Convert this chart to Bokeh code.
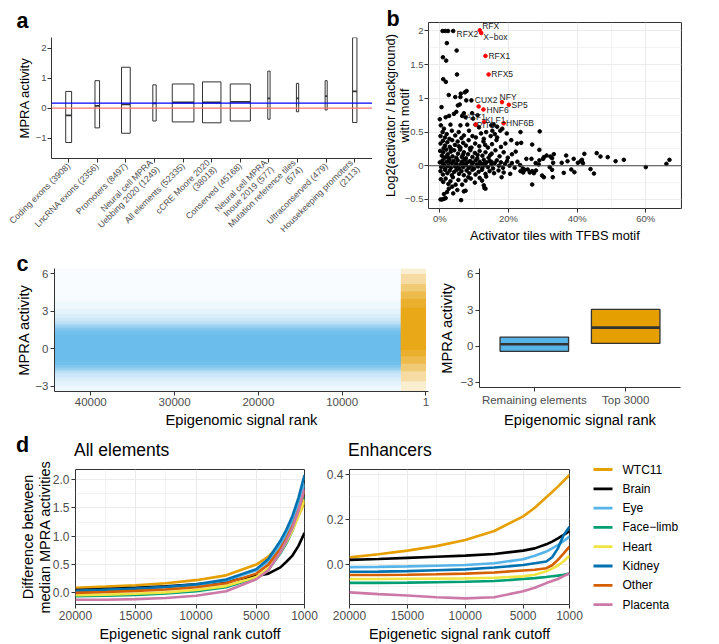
import math
from bokeh.plotting import figure
from bokeh.layouts import row, column
from bokeh.models import Range1d, FixedTicker, Span, Title, Div
from bokeh.core.properties import value
from bokeh.embed import file_html
from bokeh.resources import INLINE

FONT = "Liberation Sans"
TICK_COL = "#4D4D4D"
DARK = "#333333"
GRID = "#EBEBEB"

# ---------------- panel a data ----------------
a_labels = ["Coding exons (3908)", "LncRNA exons (2356)", "Promoters (8497)",
            "Neural cell MPRA\nUebbing 2020 (1249)", "All elements (52335)",
            "cCRE Moore 2020\n(38018)", "Conserved (45168)",
            "Neural cell MPRA\nInoue 2019 (577)", "Mutation reference tiles\n(574)",
            "Ultraconserved (479)", "Housekeeping promoters\n(2113)"]
a_counts = [3908, 2356, 8497, 1249, 52335, 38018, 45168, 577, 574, 479, 2113]
a_q1 = [-1.15, -0.66, -0.84, -0.43, -0.46, -0.49, -0.43, -0.37, -0.12, -0.06, -0.48]
a_med = [-0.24, 0.08, 0.13, 0.16, 0.19, 0.19, 0.21, 0.33, 0.33, 0.40, 0.56]
a_q3 = [0.56, 0.92, 1.37, 0.78, 0.81, 0.88, 0.81, 1.24, 0.83, 0.92, 2.36]
a_blue_ref = 0.17
a_red_ref = 0.0
a_yticks = [-1, 0, 1, 2]
a_ytick_labels = ["\u22121", "0", "1", "2"]

# ---------------- panel b data ----------------
bx = [0.8, 1.6, 2.4, 3.9, 2.05, 4.9, 0.9, 1.85, 5.0, 1.0, 1.75,
      2.6, 4.5, 6.1, 7.3, 7.8, 6.0, 7.7, 9.2, 5.25, 5.8, 0.5,
      2.7, 6.5, 1.7, 4.1, 7.0, 7.5, 9.4, 9.7, 0.0, 4.8, 11.0, 10.4, 11.4, 15.0,
      0.3, 1.2, 3.1, 6.0, 8.0, 15.7, 16.7, 18.2, 0.8, 2.0, 3.5, 4.5, 5.5, 7.0, 8.5, 9.5,
      12.0, 13.5, 14.8, 16.0, 17.6, 19.5, 1.5, 2.8, 0.2, 6.3, 10.5, 12.8, 15.3, 16.7, 23.5, 29.1,
      0.2, 0.9, 1.5, 2.2, 2.9, 3.6, 4.4, 5.2, 6.0, 6.8, 7.6, 8.4, 9.2, 10.3, 11.5, 12.7, 14.0,
      15.2, 16.5, 17.8, 19.1, 20.8, 22.5, 23.7, 26.9, 1.1, 3.3, 5.5, 8.8, 13.2,
      0.1, 0.6, 1.0, 1.4, 1.9, 2.3, 2.7, 3.2, 3.7, 4.2, 4.8, 5.3, 5.9, 6.4, 7.0, 7.6, 8.2, 8.9,
      9.5, 10.2, 10.9, 11.6, 12.4, 13.3, 14.2, 15.1, 16.2, 17.4, 18.6, 19.8, 21.0, 22.1, 29.0,
      25.2, 26.7, 30.1, 30.3, 31.1, 32.2, 32.7, 33.2, 36.8, 39.0, 41.4, 42.1, 45.7, 46.8, 48.9,
      53.6, 66.9, 2.0, 6.7, 11.0, 14.7,
      0.0, 0.4, 0.8, 1.2, 1.6, 2.0, 2.4, 2.8, 3.2, 3.6, 4.0, 4.4, 4.8, 5.2, 5.6, 6.0, 6.4, 6.8,
      7.2, 7.6, 8.0, 8.4, 8.8, 9.2, 9.6, 10.0, 10.4, 10.8, 11.2, 11.6, 12.0, 12.4, 12.8, 13.2,
      13.6, 14.0, 14.5, 15.0, 15.5, 16.0, 16.6, 17.2, 17.8, 18.4, 19.0, 19.6, 20.3, 21.0, 21.8,
      22.6, 23.4, 24.2, 27.9, 29.0, 28.8, 33.0, 35.5, 37.2, 40.2, 41.0, 41.7, 51.2, 66.0, 60.0,
      1.0, 3.0, 5.0, 7.0, 9.0, 11.0, 13.0, 15.0,
      0.2, 0.9, 1.5, 2.2, 2.9, 3.5, 4.2, 4.9, 5.6, 6.3, 7.0, 7.8, 8.6, 9.5, 10.4, 11.3, 12.3,
      13.3, 14.5, 15.8, 17.1, 18.6, 20.5, 23.5, 24.3, 24.7, 25.6, 26.2, 26.9, 27.4, 28.0, 32.0,
      32.7, 38.3, 43.9, 36.1, 39.2, 44.9,
      0.3, 1.0, 1.7, 2.5, 3.1, 3.8, 4.6, 5.4, 6.5, 7.5, 8.3, 9.0, 10.2, 11.6, 12.3, 13.5, 12.8,
      29.8, 30.3, 32.9, 26.9, 18.0,
      0.2, 0.7, 1.2, 1.7, 1.2, 2.1, 2.6, 3.6, 3.9, 5.1, 6.2, 7.0, 13.3, 13.0, 7.5]
by = [2.0, 2.0, 2.0, 2.0, 1.82, 1.71, 1.61, 1.56, 1.355, 1.285, 1.245,
      1.05, 1.02, 1.07, 1.09, 1.11, 1.02, 0.97, 0.97, 0.895, 0.91, 0.87,
      0.74, 0.74, 0.72, 0.77, 0.78, 0.72, 0.78, 0.70, 0.69, 0.80, 0.75, 0.61, 0.57, 0.60,
      0.60, 0.55, 0.61, 0.60, 0.61, 0.61, 0.58, 0.55, 0.50, 0.47, 0.52, 0.45, 0.50, 0.45, 0.52, 0.44,
      0.48, 0.50, 0.44, 0.47, 0.52, 0.48, 0.42, 0.40, 0.44, 0.41, 0.42, 0.40, 0.52, 0.42, 0.50, 0.51,
      0.33, 0.37, 0.30, 0.35, 0.28, 0.38, 0.31, 0.36, 0.27, 0.34, 0.30, 0.38, 0.27, 0.33, 0.29, 0.36, 0.27,
      0.32, 0.38, 0.28, 0.33, 0.38, 0.33, 0.34, 0.315, 0.26, 0.25, 0.29, 0.26, 0.31,
      0.22, 0.15, 0.20, 0.12, 0.24, 0.17, 0.11, 0.21, 0.14, 0.23, 0.12, 0.18, 0.24, 0.13, 0.20, 0.11, 0.17, 0.23,
      0.13, 0.19, 0.11, 0.22, 0.15, 0.20, 0.12, 0.18, 0.23, 0.14, 0.20, 0.12, 0.17, 0.21, 0.236,
      0.103, 0.103, 0.103, 0.128, 0.152, 0.137, 0.113, 0.172, 0.152, 0.103, 0.088, 0.177, 0.187, 0.137, 0.128,
      0.088, 0.088, 0.14, 0.16, 0.16, 0.16,
      0.05, -0.02, 0.08, 0.01, -0.04, 0.06, 0.0, 0.09, -0.03, 0.04, 0.07, -0.01, 0.03, 0.08, -0.04, 0.02, 0.06, -0.02,
      0.09, 0.01, 0.05, -0.03, 0.07, 0.0, 0.04, -0.04, 0.08, 0.02, -0.01, 0.06, 0.03, -0.03, 0.09, 0.01,
      0.05, -0.02, 0.07, 0.02, -0.04, 0.04, 0.08, 0.0, 0.05, -0.03, 0.03, 0.07, 0.0, 0.04, -0.03,
      0.06, 0.01, -0.04, 0.04, 0.08, 0.02, 0.044, 0.044, 0.068, 0.044, 0.068, 0.039, 0.068, 0.029, -0.02,
      0.03, 0.05, -0.01, 0.03, 0.06, 0.0, 0.04, 0.06,
      -0.08, -0.13, -0.06, -0.11, -0.07, -0.14, -0.09, -0.06, -0.12, -0.08, -0.14, -0.07, -0.11, -0.06, -0.13, -0.09, -0.06,
      -0.12, -0.08, -0.11, -0.07, -0.10, -0.12, -0.08, -0.10, -0.06, -0.055, -0.10, -0.08, -0.11, -0.07, -0.02,
      -0.06, -0.055, -0.05, -0.105, -0.095, -0.115,
      -0.20, -0.24, -0.19, -0.27, -0.23, -0.17, -0.28, -0.21, -0.28, -0.22, -0.17, -0.19, -0.25, -0.18, -0.22, -0.16, -0.29,
      -0.145, -0.17, -0.17, -0.278, -0.17,
      -0.50, -0.50, -0.49, -0.48, -0.42, -0.39, -0.34, -0.31, -0.41, -0.36, -0.51, -0.38, -0.34, -0.33, -0.37]
b_red_x = [11.65, 12.06, 13.3, 14.2, 11.3, 12.7, 18.1, 20.1, 12.9, 10.5, 18.6]
b_red_y = [2.01, 1.97, 1.63, 1.355, 0.88, 0.835, 0.945, 0.905, 0.65, 0.61, 0.63]
b_lab_text = ["RFX", "RFX2", "X\u2212box", "RFX1", "RFX5", "CUX2", "NFY", "SP5", "HNF6",
              "ATF1", "KLF1", "HNF6B", "PIT1"]
b_lab_x = [12.35, 4.86, 12.64, 14.15, 15.0, 10.2, 17.4, 20.9, 13.6, 7.54, 13.2, 19.3, 10.75]
b_lab_y = [2.07, 1.95, 1.91, 1.63, 1.355, 0.98, 1.02, 0.905, 0.835, 0.72, 0.68, 0.63, 0.60]
b_xticks = [0, 20, 40, 60]
b_xtick_labels = ["0%", "20%", "40%", "60%"]
b_xminor = [10, 30, 50, 70]
b_yticks = [-0.5, 0.0, 0.5, 1.0, 1.5, 2.0]
b_ytick_labels = ["\u22120.5", "0", "0.5", "1", "1.5", "2"]
b_yminor = [-0.25, 0.25, 0.75, 1.25, 1.75]

# ---------------- panel c data ----------------
c_blue_rank = (44300, 3000)
c_orange_rank = (3000, 1)
# density of the point cloud, read as nested bands (bottom, top, opacity)
c_blue_bottom = [-3.42, -3.42, -3.0, -2.6, -2.3, -2.0, -1.8, -1.65, -1.5, -1.3, -1.0]
c_blue_top = [6.44, 3.8, 3.2, 2.8, 2.45, 2.2, 2.0, 1.85, 1.65, 1.45, 1.15]
c_blue_alpha = [0.04, 0.05, 0.06, 0.08, 0.10, 0.13, 0.18, 0.25, 0.32, 0.35, 0.25]
c_orange_bottom = [-3.42, -2.6, -1.8, -1.2, -0.6, -0.1]
c_orange_top = [6.44, 6.0, 5.2, 4.6, 4.0, 3.3]
c_orange_alpha = [0.18, 0.22, 0.28, 0.35, 0.42, 0.45]
c_xticks = [40000, 30000, 20000, 10000, 1]
c_yticks = [-3, 0, 3, 6]
c_ytick_labels = ["\u22123", "0", "3", "6"]
c2_groups = ["Remaining elements", "Top 3000"]
c2_q1 = [-0.42, 0.23]
c2_med = [0.16, 1.54]
c2_q3 = [0.76, 3.05]
BLUE = "#56B4E9"
ORANGE = "#E69F00"

# ---------------- panel d data ----------------
d_letter = "d"
d_facets = ["All elements", "Enhancers"]
d_ranks = [20000, 17500, 15000, 12500, 10000, 7500, 5000, 4000, 3000, 2500, 2000, 1500, 1000]
d_names = ["WTC11", "Brain", "Eye", "Face\u2212limb", "Heart", "Kidney", "Other", "Placenta"]
d_colors = ["#E69F00", "#000000", "#56B4E9", "#009E73", "#F0E442", "#0072B2", "#D55E00", "#CC79A7"]
d_all = [
    [0.09, 0.11, 0.135, 0.17, 0.225, 0.31, 0.50, 0.64, 0.86, 1.00, 1.15, 1.36, 1.60],
    [0.05, 0.07, 0.09, 0.115, 0.15, 0.20, 0.30, 0.34, 0.45, 0.55, 0.66, 0.83, 1.06],
    [0.03, 0.05, 0.07, 0.10, 0.14, 0.22, 0.40, 0.56, 0.85, 1.05, 1.28, 1.58, 1.92],
    [-0.06, -0.05, -0.035, -0.01, 0.03, 0.10, 0.27, 0.41, 0.70, 0.88, 1.10, 1.38, 1.70],
    [-0.04, -0.03, -0.015, 0.01, 0.05, 0.12, 0.28, 0.43, 0.72, 0.90, 1.10, 1.36, 1.65],
    [0.035, 0.055, 0.075, 0.105, 0.15, 0.235, 0.42, 0.60, 0.92, 1.12, 1.36, 1.68, 2.08],
    [0.0, 0.015, 0.035, 0.06, 0.10, 0.17, 0.34, 0.50, 0.78, 0.96, 1.18, 1.46, 1.80],
    [-0.12, -0.12, -0.11, -0.09, -0.05, 0.03, 0.24, 0.40, 0.72, 0.92, 1.15, 1.45, 1.84],
]
d_enh = [
    [0.030, 0.044, 0.060, 0.080, 0.107, 0.147, 0.212, 0.250, 0.297, 0.320, 0.344, 0.370, 0.396],
    [0.019, 0.023, 0.028, 0.033, 0.038, 0.045, 0.060, 0.070, 0.088, 0.100, 0.114, 0.130, 0.147],
    [-0.013, -0.012, -0.010, -0.007, -0.004, 0.004, 0.022, 0.037, 0.056, 0.070, 0.085, 0.103, 0.122],
    [-0.083, -0.083, -0.082, -0.080, -0.078, -0.075, -0.066, -0.062, -0.057, -0.054, -0.051, -0.047, -0.042],
    [-0.066, -0.066, -0.065, -0.064, -0.063, -0.060, -0.054, -0.047, -0.032, -0.020, -0.006, 0.013, 0.038],
    [-0.034, -0.033, -0.031, -0.027, -0.023, -0.015, -0.004, 0.004, 0.012, 0.031, 0.070, 0.129, 0.166],
    [-0.048, -0.048, -0.047, -0.045, -0.042, -0.037, -0.028, -0.025, -0.018, -0.005, 0.019, 0.048, 0.078],
    [-0.125, -0.133, -0.139, -0.147, -0.152, -0.147, -0.120, -0.105, -0.084, -0.075, -0.066, -0.053, -0.040],
]
d_xticks = [20000, 15000, 10000, 5000, 1000]
d_xminor = [17500, 12500, 7500, 3000]
d1_yticks = [0.0, 0.5, 1.0, 1.5, 2.0]
d1_ytick_labels = ["0.0", "0.5", "1.0", "1.5", "2.0"]
d1_yminor = [0.25, 0.75, 1.25, 1.75]
d2_yticks = [0.0, 0.2, 0.4]
d2_ytick_labels = ["0.0", "0.2", "0.4"]
d2_yminor = [-0.1, 0.1, 0.3]


def make_fig(w, h, xr, yr, l, r, t, b, **kw):
    p = figure(width=w, height=h, x_range=xr, y_range=yr, output_backend="svg",
               toolbar_location=None, title=None,
               min_border_left=l, min_border_right=r, min_border_top=t, min_border_bottom=b, **kw)
    p.background_fill_color = "white"
    p.border_fill_color = "white"
    return p


def style(p, tick_size, label_size, classic):
    for ax in p.axis:
        ax.major_label_text_font = FONT
        ax.major_label_text_font_size = tick_size
        ax.major_label_text_color = TICK_COL
        ax.axis_label_text_font = FONT
        ax.axis_label_text_font_size = label_size
        ax.axis_label_text_font_style = "normal"
        ax.axis_label_text_color = "black"
        ax.major_tick_in = 0
        ax.major_tick_out = 4
        ax.major_tick_line_color = DARK
        ax.minor_tick_line_color = None
        ax.major_label_standoff = 2
        ax.axis_label_standoff = 4
        ax.axis_line_color = DARK if classic else None
    if classic:
        p.outline_line_color = None
        p.xgrid.grid_line_color = None
        p.ygrid.grid_line_color = None
    else:
        p.outline_line_color = DARK
        p.outline_line_width = 1
        for g in (p.xgrid, p.ygrid):
            g.grid_line_color = GRID
            g.grid_line_width = 1
            g.minor_grid_line_color = GRID
            g.minor_grid_line_width = 0.6


def letter(p, txt, offset, standoff):
    p.add_layout(Title(text=txt, align="left", offset=offset, standoff=standoff,
                       text_font=FONT, text_font_size="21.5px", text_font_style="bold",
                       text_color="black"), "above")


# ================= Panel a =================
a_x = list(range(1, len(a_labels) + 1))
a_w = [0.757 * math.sqrt(n / max(a_counts)) for n in a_counts]
pa = make_fig(372, 250, Range1d(0.4, 11.62), Range1d(-1.685, 2.366), 51, 0, 37, 92)
pa.add_layout(Span(location=a_blue_ref, dimension="width", line_color="#0000FF", line_width=1.2))
pa.add_layout(Span(location=a_red_ref, dimension="width", line_color="#F8766D", line_width=1.2))
pa.quad(left=[x - w / 2 for x, w in zip(a_x, a_w)], right=[x + w / 2 for x, w in zip(a_x, a_w)],
        bottom=a_q1, top=a_q3, fill_color="white", line_color=DARK, line_width=1)
pa.segment(x0=[x - w / 2 for x, w in zip(a_x, a_w)], x1=[x + w / 2 for x, w in zip(a_x, a_w)],
           y0=a_med, y1=a_med, line_color=DARK, line_width=1.8)
style(pa, "9.5px", "13px", True)
pa.xaxis.ticker = FixedTicker(ticks=a_x)
pa.xaxis.major_label_overrides = {x: lab for x, lab in zip(a_x, a_labels)}
pa.xaxis.major_label_orientation = math.pi / 4
pa.xaxis.major_label_text_font_size = "8.8px"
pa.xaxis.major_label_text_line_height = 0.95
pa.xaxis.major_label_standoff = 2
pa.yaxis.ticker = FixedTicker(ticks=a_yticks)
pa.yaxis.major_label_overrides = {t: s for t, s in zip(a_yticks, a_ytick_labels)}
pa.yaxis.axis_label = "MPRA activity"
pa.yaxis.major_label_standoff = 1
pa.yaxis.axis_label_standoff = 1
letter(pa, "a", -35, 10)

# ================= Panel b =================
pb = make_fig(347, 250, Range1d(-3.3, 70.4), Range1d(-0.634, 2.126), 56, 38, 22, 42)
style(pb, "9.5px", "12.8px", False)
pb.add_layout(Span(location=0, dimension="width", line_color="#444444", line_width=1.2))
pb.scatter(bx, by, size=3.6, color="black")
pb.scatter(b_red_x, b_red_y, size=3.6, color="#FF0000")
pb.text(x=b_lab_x, y=b_lab_y, text=b_lab_text, text_font=value(FONT), text_font_size="8.5px",
        text_baseline="middle", text_align="left", text_color="#222222")
pb.xaxis.ticker = FixedTicker(ticks=b_xticks, minor_ticks=b_xminor)
pb.xaxis.major_label_overrides = {t: s for t, s in zip(b_xticks, b_xtick_labels)}
pb.yaxis.ticker = FixedTicker(ticks=b_yticks, minor_ticks=b_yminor)
pb.yaxis.major_label_overrides = {t: s for t, s in zip(b_yticks, b_ytick_labels)}
pb.xaxis.axis_label = "Activator tiles with TFBS motif"
pb.yaxis.axis_label = "Log2(activator / background)\nwith motif"
pb.yaxis.axis_label_text_line_height = 0.9
pb.yaxis.major_label_standoff = 1
pb.xaxis.major_label_standoff = 0
pb.xaxis.axis_label_standoff = 1
pb.yaxis.axis_label_standoff = -10
letter(pb, "b", -42, -16)

# ================= Panel c (left) =================
pc = make_fig(432, 180, Range1d(44330, -300), Range1d(-3.42, 6.44), 54, 4, 18, 36)
pc.quad(left=[c_blue_rank[0]] * len(c_blue_bottom), right=[c_blue_rank[1]] * len(c_blue_bottom),
        bottom=c_blue_bottom, top=c_blue_top, fill_color=BLUE, fill_alpha=c_blue_alpha, line_color=None)
pc.quad(left=[c_orange_rank[0]] * len(c_orange_bottom), right=[c_orange_rank[1]] * len(c_orange_bottom),
        bottom=c_orange_bottom, top=c_orange_top, fill_color=ORANGE, fill_alpha=c_orange_alpha,
        line_color=None)
style(pc, "11.5px", "14.7px", True)
pc.xaxis.ticker = FixedTicker(ticks=c_xticks)
pc.yaxis.ticker = FixedTicker(ticks=c_yticks)
pc.yaxis.major_label_overrides = {t: s for t, s in zip(c_yticks, c_ytick_labels)}
pc.xaxis.axis_label = "Epigenomic signal rank"
pc.yaxis.axis_label = "MPRA activity"
pc.xaxis.axis_label_standoff = 3
pc.yaxis.axis_label_standoff = 0
letter(pc, "c", -38, -15)

# ================= Panel c (right) =================
c2_x = [1, 2]
pc2 = make_fig(287, 180, Range1d(0.4, 2.6), Range1d(-3.42, 6.44), 47, 39, 18, 36)
pc2.quad(left=[x - 0.375 for x in c2_x], right=[x + 0.375 for x in c2_x], bottom=c2_q1, top=c2_q3,
         fill_color=[BLUE, ORANGE], line_color=DARK, line_width=1.3)
pc2.segment(x0=[x - 0.375 for x in c2_x], x1=[x + 0.375 for x in c2_x], y0=c2_med, y1=c2_med,
            line_color=DARK, line_width=2.6)
style(pc2, "11.5px", "14.7px", True)
pc2.xaxis.ticker = FixedTicker(ticks=c2_x)
pc2.xaxis.major_label_overrides = {x: g for x, g in zip(c2_x, c2_groups)}
pc2.yaxis.ticker = FixedTicker(ticks=c_yticks)
pc2.yaxis.major_label_overrides = {t: s for t, s in zip(c_yticks, c_ytick_labels)}
pc2.xaxis.axis_label = "Epigenomic signal rank"
pc2.yaxis.axis_label = "MPRA activity"
pc2.xaxis.axis_label_standoff = 3
pc2.yaxis.axis_label_standoff = 2

# ================= Panel d header (letter + facet titles) =================
hdr_html = (
    '<div style="position:relative;width:719px;height:30px;overflow:visible;'
    'font-family:\'Liberation Sans\',Arial,sans-serif;color:#000;">'
    '<span style="position:absolute;left:16px;top:4.8px;font-size:21.5px;font-weight:bold;'
    'line-height:1;white-space:nowrap;">' + d_letter + '</span>'
    '<span style="position:absolute;left:74px;top:12.2px;font-size:17.5px;'
    'line-height:1;white-space:nowrap;">' + d_facets[0] + '</span>'
    '<span style="position:absolute;left:348px;top:12.2px;font-size:17.5px;'
    'line-height:1;white-space:nowrap;">' + d_facets[1] + '</span>'
    '</div>')
hdr = Div(text=hdr_html, width=719, height=30, margin=0)

# ================= Panel d (left) =================
pd1 = make_fig(322, 184, Range1d(20000, 1000), Range1d(-0.205, 2.18), 75, 18, 9, 39)
style(pd1, "12px", "14.5px", False)
for ys, col in zip(d_all, d_colors):
    pd1.line(d_ranks, ys, line_color=col, line_width=2.6)
pd1.xaxis.ticker = FixedTicker(ticks=d_xticks, minor_ticks=d_xminor)
pd1.yaxis.ticker = FixedTicker(ticks=d1_yticks, minor_ticks=d1_yminor)
pd1.yaxis.major_label_overrides = {t: s for t, s in zip(d1_yticks, d1_ytick_labels)}
pd1.xaxis.axis_label = "Epigenetic signal rank cutoff"
pd1.yaxis.axis_label = "Difference between\nmedian MPRA activities"
pd1.yaxis.axis_label_text_line_height = 1.08
pd1.xaxis.axis_label_standoff = 3
pd1.yaxis.axis_label_standoff = -3

# ================= Panel d (right) =================
pd2 = make_fig(262, 184, Range1d(20000, 1000), Range1d(-0.179, 0.42), 27, 15, 9, 39)
style(pd2, "12px", "14.5px", False)
for ys, col in zip(d_enh, d_colors):
    pd2.line(d_ranks, ys, line_color=col, line_width=2.6)
pd2.xaxis.ticker = FixedTicker(ticks=d_xticks, minor_ticks=d_xminor)
pd2.yaxis.ticker = FixedTicker(ticks=d2_yticks, minor_ticks=d2_yminor)
pd2.yaxis.major_label_overrides = {t: s for t, s in zip(d2_yticks, d2_ytick_labels)}
pd2.xaxis.axis_label = "Epigenetic signal rank cutoff"
pd2.xaxis.axis_label_standoff = 3

# ================= legend for panel d (page pixel coordinates) =================
leg = make_fig(135, 184, Range1d(584, 719), Range1d(644, 460), 0, 0, 0, 0,
               x_axis_type=None, y_axis_type=None)
leg.outline_line_color = None
leg.grid.visible = False
leg_y = [469 + 19.3 * i for i in range(len(d_names))]
leg.segment(x0=[593] * len(d_names), x1=[612] * len(d_names), y0=leg_y, y1=leg_y,
            line_color=d_colors, line_width=2.8)
leg.text(x=[622] * len(d_names), y=leg_y, text=d_names, text_font=value(FONT),
         text_font_size="12px", text_baseline="middle", text_color="black")

layout = column(
    row(column(pa), column(pb)),
    row(column(pc), column(pc2)),
    hdr,
    row(column(pd1), column(pd2), column(leg)),
)
open("out.html", "w").write(file_html(layout, INLINE))
